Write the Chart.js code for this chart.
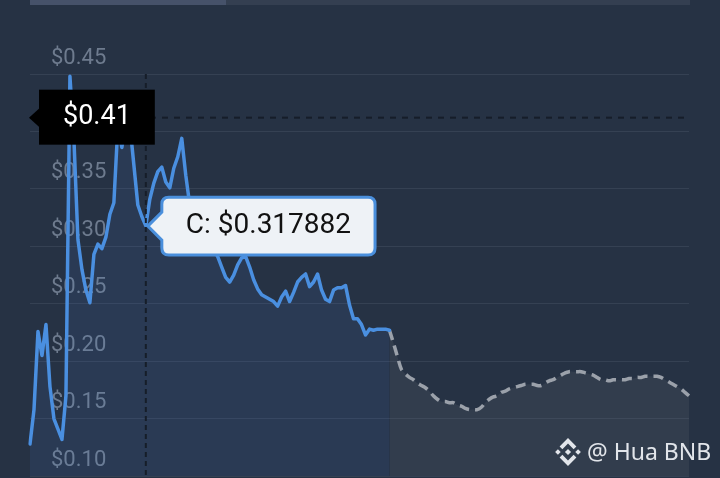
<!DOCTYPE html>
<html>
<head>
<meta charset="utf-8">
<script src="https://cdn.jsdelivr.net/npm/chart.js@4/dist/chart.umd.min.js"></script>
<style>
  html, body { margin: 0; padding: 0; background: #263244; }
  #wrap { position: relative; width: 720px; height: 478px; overflow: hidden; }
  #bar { position: absolute; left: 30px; top: 0; width: 660px; height: 5px; background: #343f51; }
  #bar div { width: 196px; height: 100%; background: #46526a; }
  canvas { position: absolute; left: 0; top: 0; }
</style>
</head>
<body>
<div id="wrap">
  <div id="bar"><div></div></div>
  <canvas id="priceChart" width="720" height="478"></canvas>
</div>
<script>
// price so far (one point per step)
const priceHistory = [
  0.128, 0.158, 0.226, 0.205, 0.232, 0.178, 0.150, 0.141, 0.132, 0.170,
  0.448, 0.393, 0.306, 0.280, 0.262, 0.251, 0.293, 0.302, 0.298, 0.308,
  0.328, 0.338, 0.405, 0.386, 0.410, 0.406, 0.371, 0.336, 0.326, 0.317882,
  0.341, 0.355, 0.365, 0.369, 0.356, 0.351, 0.368, 0.378, 0.394, 0.362,
  0.336, 0.328, 0.319, 0.313, 0.308, 0.302, 0.297, 0.291, 0.282, 0.273,
  0.269, 0.275, 0.284, 0.290, 0.291, 0.282, 0.271, 0.263, 0.258, 0.256,
  0.254, 0.252, 0.248, 0.256, 0.261, 0.252, 0.260, 0.269, 0.273, 0.276,
  0.265, 0.269, 0.276, 0.262, 0.254, 0.252, 0.262, 0.264, 0.264, 0.266,
  0.249, 0.237, 0.237, 0.232, 0.223, 0.228, 0.227, 0.228, 0.228, 0.228,
  0.227
];

// projected price, starts at the last real point
const forecast = [
  0.227, 0.216, 0.204, 0.193, 0.189, 0.186, 0.184, 0.181, 0.179, 0.177,
  0.174, 0.170, 0.167, 0.165, 0.165, 0.164, 0.164, 0.162, 0.161, 0.159,
  0.158, 0.158, 0.158, 0.160, 0.164, 0.167, 0.169, 0.170, 0.173, 0.174,
  0.176, 0.177, 0.178, 0.179, 0.180, 0.180, 0.180, 0.179, 0.179, 0.181,
  0.183, 0.184, 0.186, 0.188, 0.190, 0.191, 0.191, 0.191, 0.191, 0.190,
  0.189, 0.188, 0.186, 0.184, 0.184, 0.183, 0.184, 0.184, 0.184, 0.184,
  0.185, 0.185, 0.186, 0.186, 0.187, 0.187, 0.187, 0.187, 0.186, 0.184,
  0.182, 0.180, 0.178, 0.176, 0.173, 0.170
];

const yTicks = [0.10, 0.15, 0.20, 0.25, 0.30, 0.35, 0.40, 0.45];
const hoverIndex = 29;      // point under the crosshair
const cursorPrice = 0.412;  // price at the cursor line, shown rounded
const seriesName = "C";
const watermark = "@ Hua BNB";

const total = priceHistory.length + forecast.length - 1;
const steps = Array.from({ length: total }, (_, i) => i);
const histData = priceHistory.concat(new Array(forecast.length - 1).fill(null));
const foreData = new Array(priceHistory.length - 1).fill(null).concat(forecast);

function drawLogo(ctx, cx, cy, h) {
  const poly = pts => {
    ctx.beginPath();
    pts.forEach(([px, py], k) => k ? ctx.lineTo(cx + px * h, cy + py * h) : ctx.moveTo(cx + px * h, cy + py * h));
    ctx.closePath();
    ctx.fill();
  };
  poly([[0, -0.22], [0.22, 0], [0, 0.22], [-0.22, 0]]);
  poly([[-0.72, -0.2], [-0.52, 0], [-0.72, 0.2], [-0.92, 0]]);
  poly([[0.72, -0.2], [0.92, 0], [0.72, 0.2], [0.52, 0]]);
  poly([[0, -1], [0.6, -0.4], [0.4, -0.2], [0, -0.6], [-0.4, -0.2], [-0.6, -0.4]]);
  poly([[0, 1], [0.6, 0.4], [0.4, 0.2], [0, 0.6], [-0.4, 0.2], [-0.6, 0.4]]);
}

const crosshair = {
  id: "crosshair",
  afterDatasetsDraw(chart) {
    const { ctx, chartArea: a, scales: { x, y } } = chart;
    const px = x.getPixelForValue(hoverIndex);
    const py = y.getPixelForValue(cursorPrice);
    ctx.save();
    ctx.strokeStyle = "#161d29";
    ctx.lineWidth = 2;
    ctx.setLineDash([5, 4]);
    ctx.beginPath();
    ctx.moveTo(px, a.top);
    ctx.lineTo(px, a.bottom);
    ctx.stroke();
    ctx.setLineDash([6, 6]);
    ctx.beginPath();
    ctx.moveTo(a.left, py);
    ctx.lineTo(a.right, py);
    ctx.stroke();
    ctx.restore();
  },
  afterDraw(chart) {
    const { ctx, chartArea: a, scales: { y } } = chart;
    const py = y.getPixelForValue(cursorPrice);
    ctx.save();
    // price tag at the cursor line
    ctx.font = "27px Roboto";
    const txt = "$" + cursorPrice.toFixed(2);
    const w = ctx.measureText(txt).width + 48;
    const left = a.left + 9;
    ctx.fillStyle = "#000";
    ctx.fillRect(left, py - 28, w, 55);
    ctx.beginPath();
    ctx.moveTo(left + 1, py - 10);
    ctx.lineTo(a.left - 1, py);
    ctx.lineTo(left + 1, py + 10);
    ctx.closePath();
    ctx.fill();
    ctx.fillStyle = "#fff";
    ctx.textAlign = "center";
    ctx.textBaseline = "middle";
    ctx.fillText(txt, left + w / 2, py);

    // watermark
    ctx.fillStyle = "#e2e5ea";
    drawLogo(ctx, 568, 452, 14);
    ctx.font = "23px 'Noto Sans'";
    ctx.textAlign = "left";
    ctx.textBaseline = "alphabetic";
    ctx.fillText(watermark, 587, 460);
    ctx.restore();
  }
};

const chart = new Chart(document.getElementById("priceChart"), {
  type: "line",
  data: {
    labels: steps,
    datasets: [
      {
        data: histData,
        borderColor: "#4a8fe0",
        borderWidth: 3.5,
        borderJoinStyle: "round",
        borderCapStyle: "round",
        backgroundColor: "rgba(74,140,226,0.1)",
        fill: "start",
        pointRadius: 0,
        tension: 0
      },
      {
        data: foreData,
        borderColor: "#9ba1aa",
        borderWidth: 3.5,
        borderDash: [10, 6],
        backgroundColor: "rgba(120,125,135,0.15)",
        fill: "start",
        pointRadius: 0,
        tension: 0.3
      }
    ]
  },
  options: {
    responsive: false,
    animation: false,
    events: [],
    layout: { padding: { left: 30, right: 31, top: 74, bottom: 1 } },
    scales: {
      x: { display: false },
      y: {
        min: yTicks[0],
        max: yTicks[yTicks.length - 1],
        afterFit(s) { s.width = 0; s.paddingTop = 0; s.paddingBottom = 0; },
        afterBuildTicks(s) { s.ticks = yTicks.map(v => ({ value: v })); },
        border: { display: false },
        grid: { color: "rgba(120,135,155,0.18)", lineWidth: 1, drawTicks: false },
        ticks: {
          mirror: true,
          padding: 21,
          labelOffset: -16,
          color: "#6e7b8e",
          font: { family: "Roboto", size: 22 },
          callback: v => "$" + Number(v).toFixed(2)
        }
      }
    },
    plugins: {
      legend: { display: false },
      tooltip: {
        enabled: true,
        filter: item => item.datasetIndex === 0,
        displayColors: false,
        backgroundColor: "#eef2f6",
        borderColor: "#4a8fdc",
        borderWidth: 3,
        cornerRadius: 7,
        caretSize: 14,
        caretPadding: 2,
        xAlign: "left",
        yAlign: "center",
        padding: { left: 24, right: 24, top: 12, bottom: 12 },
        bodyColor: "#111",
        bodyFont: { family: "Roboto", size: 28 },
        callbacks: {
          title: () => "",
          label: c => seriesName + ": $" + c.parsed.y
        }
      }
    }
  },
  plugins: [crosshair]
});

const pt = chart.getDatasetMeta(0).data[hoverIndex];
chart.tooltip.setActiveElements([{ datasetIndex: 0, index: hoverIndex }], { x: pt.x, y: pt.y });
chart.update();
</script>
</body>
</html>
